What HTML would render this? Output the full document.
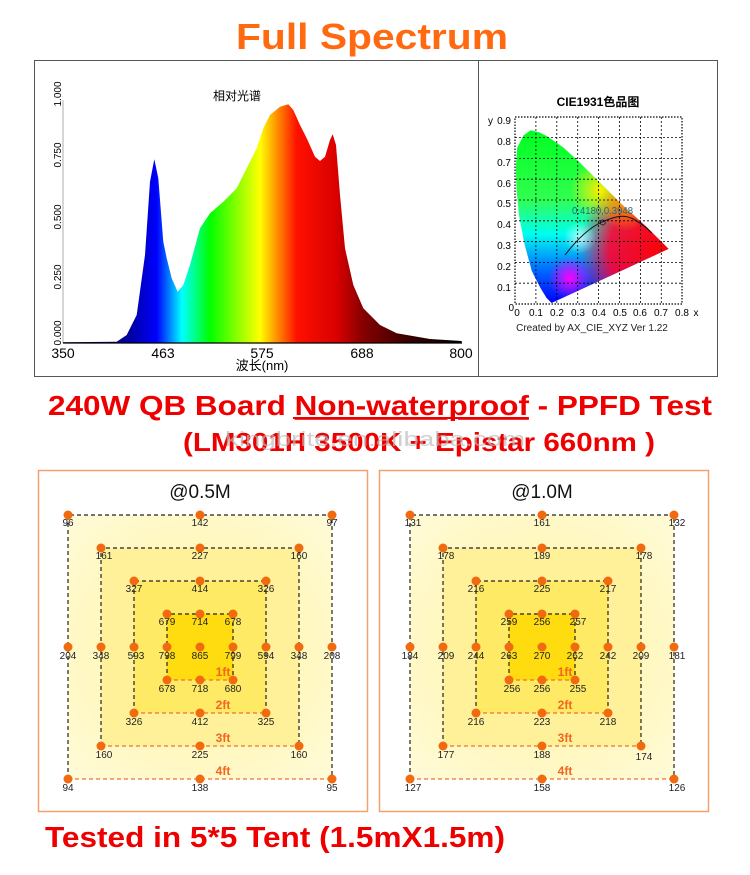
<!DOCTYPE html>
<html><head><meta charset="utf-8"><style>
html,body{margin:0;padding:0;background:#fff;}
svg{display:block;font-family:"Liberation Sans","Noto Sans CJK SC",sans-serif;}
</style></head><body>
<svg width="750" height="875" viewBox="0 0 750 875" xmlns="http://www.w3.org/2000/svg">
<defs>
<linearGradient id="spec" gradientUnits="userSpaceOnUse" x1="63" y1="0" x2="462" y2="0">
<stop offset="0" stop-color="#000060"/>
<stop offset="0.168" stop-color="#0000a0"/>
<stop offset="0.235" stop-color="#0000ff"/>
<stop offset="0.298" stop-color="#00ffff"/>
<stop offset="0.368" stop-color="#00ff00"/>
<stop offset="0.494" stop-color="#ffff00"/>
<stop offset="0.536" stop-color="#ff9000"/>
<stop offset="0.586" stop-color="#ff1000"/>
<stop offset="0.687" stop-color="#d80000"/>
<stop offset="0.752" stop-color="#860000"/>
<stop offset="0.877" stop-color="#300000"/>
<stop offset="1" stop-color="#000000"/>
</linearGradient>
<linearGradient id="cieBase" gradientUnits="userSpaceOnUse" x1="0" y1="130" x2="0" y2="303">
<stop offset="0" stop-color="#00ff20"/>
<stop offset="0.4" stop-color="#30ff50"/>
<stop offset="0.6" stop-color="#00ffee"/>
<stop offset="0.8" stop-color="#0070ff"/>
<stop offset="1" stop-color="#0000ff"/>
</linearGradient>
<radialGradient id="rRed" gradientUnits="userSpaceOnUse" cx="668" cy="250" r="90"><stop offset="0" stop-color="#ff0000"/><stop offset="0.65" stop-color="#ff0030" stop-opacity="0.9"/><stop offset="1" stop-color="#ff0040" stop-opacity="0"/></radialGradient>
<radialGradient id="rMag" gradientUnits="userSpaceOnUse" cx="570" cy="278" r="22"><stop offset="0" stop-color="#ff00ff"/><stop offset="1" stop-color="#ff00ff" stop-opacity="0"/></radialGradient>
<radialGradient id="rOr" gradientUnits="userSpaceOnUse" cx="625" cy="205" r="26"><stop offset="0" stop-color="#ff9900"/><stop offset="1" stop-color="#ff9900" stop-opacity="0"/></radialGradient>
<radialGradient id="rYel" gradientUnits="userSpaceOnUse" cx="600" cy="190" r="30"><stop offset="0" stop-color="#ffee00"/><stop offset="1" stop-color="#ffee00" stop-opacity="0"/></radialGradient>
<radialGradient id="rWh" gradientUnits="userSpaceOnUse" cx="580" cy="238" r="16"><stop offset="0" stop-color="#ffffff" stop-opacity="0.7"/><stop offset="1" stop-color="#ffffff" stop-opacity="0"/></radialGradient>
<clipPath id="locus"><path d="M551.6,303 L546.4,297.8 540.1,287.4 531.7,270.7 524.4,243.7 519.2,216.6 516.7,191.7 515.8,168.8 517.1,148 523.4,135.5 530.7,130.3 539,132.2 547.4,136.4 563.1,147.2 577.7,160.5 592.3,175 607,189.6 621.6,204.2 635.2,216.6 646.7,227 659.2,239.5 668.6,248.9 Z"/></clipPath>
<radialGradient id="tentBg" cx="0.5" cy="0.5" r="0.7"><stop offset="0" stop-color="#fff3a0"/><stop offset="1" stop-color="#fffbd8"/></radialGradient>
</defs>

<text x="372" y="49" text-anchor="middle" font-size="36" font-weight="bold" fill="#ff6a10" textLength="272" lengthAdjust="spacingAndGlyphs">Full Spectrum</text>

<rect x="34.5" y="60.5" width="683" height="316" fill="none" stroke="#555" stroke-width="1"/>
<line x1="478.5" y1="60" x2="478.5" y2="376" stroke="#555"/>

<line x1="63" y1="100" x2="63" y2="343" stroke="#999" stroke-width="0.8"/>
<path fill="url(#spec)" d="M63.3,342.3 L116.7,341.7 126.7,335 136.7,315 145,255 150,181.7 154.3,159.3 158.3,178.3 163.3,241.7 166.7,258.3 171.7,278.3 177.7,291.7 183.3,285 190,265 200,228.3 210,213.3 223.3,201.7 236.7,188.3 246.7,168.3 256.7,148.3 263.3,128.3 270,115 280,106.7 288.3,104.3 293.3,110 300,125 306.7,138.3 315,156.7 320,161 325,156.7 330,140 332.7,134.3 336,145 340,195 345,248.3 353.3,285 363.3,308.3 380,325 396.7,333.3 430,339 461.7,341 461.7,343 63.3,343 Z"/>
<line x1="63" y1="343" x2="462" y2="343" stroke="#000" stroke-width="1.2"/>
<g font-size="14" fill="#000" text-anchor="middle">
<text x="63" y="358">350</text><text x="163" y="358">463</text><text x="262" y="358">575</text><text x="362" y="358">688</text><text x="461" y="358">800</text>
<text x="262" y="370" font-size="13">波长(nm)</text>
</g>
<g font-size="10" fill="#000" text-anchor="middle">
<text transform="translate(61,333) rotate(-90)">0.000</text>
<text transform="translate(61,277) rotate(-90)">0.250</text>
<text transform="translate(61,217) rotate(-90)">0.500</text>
<text transform="translate(61,155) rotate(-90)">0.750</text>
<text transform="translate(61,94) rotate(-90)">1.000</text>
</g>
<text x="237" y="100" font-size="12" text-anchor="middle">相对光谱</text>

<text x="598" y="106" font-size="12" text-anchor="middle" font-weight="bold">CIE1931色品图</text>
<g clip-path="url(#locus)">
<rect x="510" y="125" width="170" height="185" fill="url(#cieBase)"/>
<rect x="510" y="125" width="170" height="185" fill="url(#rRed)"/>
<rect x="510" y="125" width="170" height="185" fill="url(#rMag)"/>
<rect x="510" y="125" width="170" height="185" fill="url(#rYel)"/>
<rect x="510" y="125" width="170" height="185" fill="url(#rOr)"/>
<rect x="510" y="125" width="170" height="185" fill="url(#rWh)"/>
</g>
<g stroke="#000" stroke-width="0.8" stroke-dasharray="2,2" fill="none">
<path d="M535.9,117 V304 M556.8,117 V304 M577.7,117 V304 M598.6,117 V304 M619.5,117 V304 M640.4,117 V304 M661.3,117 V304"/>
<path d="M515,137.6 H682 M515,158.4 H682 M515,179.2 H682 M515,200 H682 M515,220.8 H682 M515,241.6 H682 M515,262.4 H682 M515,283.2 H682"/>
</g>
<rect x="515" y="117" width="167" height="187" fill="none" stroke="#000" stroke-width="1.2" stroke-dasharray="1.5,1.5"/>
<path d="M565,255 C575,242 588,228 602.4,221.8 S625,214 635,220 S648,229 651.7,233" fill="none" stroke="#111" stroke-width="1"/>
<circle cx="602.7" cy="222.5" r="2.5" fill="none" stroke="#111" stroke-width="0.8"/>
<text x="572" y="214" font-size="10" fill="#1b6a8a" textLength="61" lengthAdjust="spacingAndGlyphs">0.4180,0.3948</text>
<g font-size="10" fill="#000" text-anchor="end">
<text x="511" y="124">0.9</text><text x="511" y="145">0.8</text><text x="511" y="166">0.7</text><text x="511" y="187">0.6</text><text x="511" y="207">0.5</text><text x="511" y="228">0.4</text><text x="511" y="249">0.3</text><text x="511" y="270">0.2</text><text x="511" y="291">0.1</text><text x="514" y="311">0</text>
</g>
<text x="488" y="124" font-size="10">y</text>
<g font-size="10" fill="#000" text-anchor="middle">
<text x="517" y="316">0</text><text x="536" y="316">0.1</text><text x="557" y="316">0.2</text><text x="578" y="316">0.3</text><text x="599" y="316">0.4</text><text x="620" y="316">0.5</text><text x="640" y="316">0.6</text><text x="661" y="316">0.7</text><text x="682" y="316">0.8</text><text x="696" y="316">x</text>
</g>
<text x="592" y="331" font-size="10" text-anchor="middle" fill="#222">Created by AX_CIE_XYZ Ver 1.22</text>

<text x="48" y="415" font-size="28" font-weight="bold" fill="#ee0000" textLength="664" lengthAdjust="spacingAndGlyphs">240W QB Board <tspan text-decoration="underline">Non-waterproof</tspan> - PPFD Test</text>
<line x1="293" y1="418" x2="528" y2="418" stroke="#ee0000" stroke-width="2"/>
<text x="183" y="451" font-size="26" font-weight="bold" fill="#ee0000" textLength="472" lengthAdjust="spacingAndGlyphs">(LM301H 3500K + Epistar 660nm )</text>
<text x="225" y="446" font-size="20" fill="#bbbbbb" fill-opacity="0.7" textLength="300" lengthAdjust="spacingAndGlyphs">kingbrite.en.alibaba.com</text>

<rect x="38.5" y="470.5" width="329" height="341" fill="none" stroke="#f4a070" stroke-width="1.5"/>
<rect x="379.5" y="470.5" width="329" height="341" fill="none" stroke="#f4a070" stroke-width="1.5"/>
<text x="200" y="498" font-size="19" text-anchor="middle" fill="#111">@0.5M</text>
<text x="542" y="498" font-size="19" text-anchor="middle" fill="#111">@1.0M</text>

<g transform="translate(200,647)">
<rect x="-132" y="-132" width="264" height="264" fill="url(#tentBg)"/>
<rect x="-99" y="-99" width="198" height="198" fill="#fff19a"/>
<rect x="-66" y="-66" width="132" height="132" fill="#ffea66"/>
<rect x="-33" y="-33" width="66" height="66" fill="#ffdc10"/>
<g fill="none" stroke-width="1.2" stroke-dasharray="4,3">
<path stroke="#222" d="M-132,132 V-132 H132 V132 M-99,99 V-99 H99 V99 M-66,66 V-66 H66 V66 M-33,33 V-33 H33 V33"/>
<path stroke="#f07030" d="M-132,132 H132 M-99,99 H99 M-66,66 H66 M-33,33 H33"/>
</g>
<g fill="#f26a10">
<circle cx="0" cy="0" r="4.5"/>
<circle cx="-132" cy="-132" r="4.5"/><circle cx="0" cy="-132" r="4.5"/><circle cx="132" cy="-132" r="4.5"/><circle cx="-132" cy="0" r="4.5"/><circle cx="132" cy="0" r="4.5"/><circle cx="-132" cy="132" r="4.5"/><circle cx="0" cy="132" r="4.5"/><circle cx="132" cy="132" r="4.5"/>
<circle cx="-99" cy="-99" r="4.5"/><circle cx="0" cy="-99" r="4.5"/><circle cx="99" cy="-99" r="4.5"/><circle cx="-99" cy="0" r="4.5"/><circle cx="99" cy="0" r="4.5"/><circle cx="-99" cy="99" r="4.5"/><circle cx="0" cy="99" r="4.5"/><circle cx="99" cy="99" r="4.5"/>
<circle cx="-66" cy="-66" r="4.5"/><circle cx="0" cy="-66" r="4.5"/><circle cx="66" cy="-66" r="4.5"/><circle cx="-66" cy="0" r="4.5"/><circle cx="66" cy="0" r="4.5"/><circle cx="-66" cy="66" r="4.5"/><circle cx="0" cy="66" r="4.5"/><circle cx="66" cy="66" r="4.5"/>
<circle cx="-33" cy="-33" r="4.5"/><circle cx="0" cy="-33" r="4.5"/><circle cx="33" cy="-33" r="4.5"/><circle cx="-33" cy="0" r="4.5"/><circle cx="33" cy="0" r="4.5"/><circle cx="-33" cy="33" r="4.5"/><circle cx="0" cy="33" r="4.5"/><circle cx="33" cy="33" r="4.5"/>
</g>
<g font-size="10" fill="#222" text-anchor="middle">
<text x="-132" y="-121">96</text><text x="0" y="-121">142</text><text x="132" y="-121">97</text><text x="-132" y="12">204</text><text x="132" y="12">208</text><text x="-132" y="144">94</text><text x="0" y="144">138</text><text x="132" y="144">95</text>
<text x="-96" y="-88">161</text><text x="0" y="-88">227</text><text x="99" y="-88">160</text><text x="-99" y="12">348</text><text x="99" y="12">348</text><text x="-96" y="111">160</text><text x="0" y="111">225</text><text x="99" y="111">160</text>
<text x="-66" y="-55">327</text><text x="0" y="-55">414</text><text x="66" y="-55">326</text><text x="-64" y="12">593</text><text x="66" y="12">594</text><text x="-66" y="78">326</text><text x="0" y="78">412</text><text x="66" y="78">325</text>
<text x="-33" y="-22">679</text><text x="0" y="-22">714</text><text x="33" y="-22">678</text><text x="-33" y="12">798</text><text x="33" y="12">799</text><text x="-33" y="45">678</text><text x="0" y="45">718</text><text x="33" y="45">680</text>
<text x="0" y="12">865</text>
</g>
<g font-size="12" font-weight="bold" fill="#f26522" text-anchor="middle">
<text x="23" y="29">1ft</text><text x="23" y="62">2ft</text><text x="23" y="95">3ft</text><text x="23" y="128">4ft</text>
</g>
</g>

<g transform="translate(542,647)">
<rect x="-132" y="-132" width="264" height="264" fill="url(#tentBg)"/>
<rect x="-99" y="-99" width="198" height="198" fill="#fff19a"/>
<rect x="-66" y="-66" width="132" height="132" fill="#ffea66"/>
<rect x="-33" y="-33" width="66" height="66" fill="#ffdc10"/>
<g fill="none" stroke-width="1.2" stroke-dasharray="4,3">
<path stroke="#222" d="M-132,132 V-132 H132 V132 M-99,99 V-99 H99 V99 M-66,66 V-66 H66 V66 M-33,33 V-33 H33 V33"/>
<path stroke="#f07030" d="M-132,132 H132 M-99,99 H99 M-66,66 H66 M-33,33 H33"/>
</g>
<g fill="#f26a10">
<circle cx="0" cy="0" r="4.5"/>
<circle cx="-132" cy="-132" r="4.5"/><circle cx="0" cy="-132" r="4.5"/><circle cx="132" cy="-132" r="4.5"/><circle cx="-132" cy="0" r="4.5"/><circle cx="132" cy="0" r="4.5"/><circle cx="-132" cy="132" r="4.5"/><circle cx="0" cy="132" r="4.5"/><circle cx="132" cy="132" r="4.5"/>
<circle cx="-99" cy="-99" r="4.5"/><circle cx="0" cy="-99" r="4.5"/><circle cx="99" cy="-99" r="4.5"/><circle cx="-99" cy="0" r="4.5"/><circle cx="99" cy="0" r="4.5"/><circle cx="-99" cy="99" r="4.5"/><circle cx="0" cy="99" r="4.5"/><circle cx="99" cy="99" r="4.5"/>
<circle cx="-66" cy="-66" r="4.5"/><circle cx="0" cy="-66" r="4.5"/><circle cx="66" cy="-66" r="4.5"/><circle cx="-66" cy="0" r="4.5"/><circle cx="66" cy="0" r="4.5"/><circle cx="-66" cy="66" r="4.5"/><circle cx="0" cy="66" r="4.5"/><circle cx="66" cy="66" r="4.5"/>
<circle cx="-33" cy="-33" r="4.5"/><circle cx="0" cy="-33" r="4.5"/><circle cx="33" cy="-33" r="4.5"/><circle cx="-33" cy="0" r="4.5"/><circle cx="33" cy="0" r="4.5"/><circle cx="-33" cy="33" r="4.5"/><circle cx="0" cy="33" r="4.5"/><circle cx="33" cy="33" r="4.5"/>
</g>
<g font-size="10" fill="#222" text-anchor="middle">
<text x="-129" y="-121">131</text><text x="0" y="-121">161</text><text x="135" y="-121">132</text><text x="-132" y="12">184</text><text x="135" y="12">181</text><text x="-129" y="144">127</text><text x="0" y="144">158</text><text x="135" y="144">126</text>
<text x="-96" y="-88">178</text><text x="0" y="-88">189</text><text x="102" y="-88">178</text><text x="-96" y="12">209</text><text x="99" y="12">209</text><text x="-96" y="111">177</text><text x="0" y="111">188</text><text x="102" y="113">174</text>
<text x="-66" y="-55">216</text><text x="0" y="-55">225</text><text x="66" y="-55">217</text><text x="-66" y="12">244</text><text x="66" y="12">242</text><text x="-66" y="78">216</text><text x="0" y="78">223</text><text x="66" y="78">218</text>
<text x="-33" y="-22">259</text><text x="0" y="-22">256</text><text x="36" y="-22">257</text><text x="-33" y="12">263</text><text x="33" y="12">262</text><text x="-30" y="45">256</text><text x="0" y="45">256</text><text x="36" y="45">255</text>
<text x="0" y="12">270</text>
</g>
<g font-size="12" font-weight="bold" fill="#f26522" text-anchor="middle">
<text x="23" y="29">1ft</text><text x="23" y="62">2ft</text><text x="23" y="95">3ft</text><text x="23" y="128">4ft</text>
</g>
</g>

<text x="45" y="847" font-size="29" font-weight="bold" fill="#ee0000" textLength="460" lengthAdjust="spacingAndGlyphs">Tested in 5*5 Tent (1.5mX1.5m)</text>
</svg>
</body></html>
